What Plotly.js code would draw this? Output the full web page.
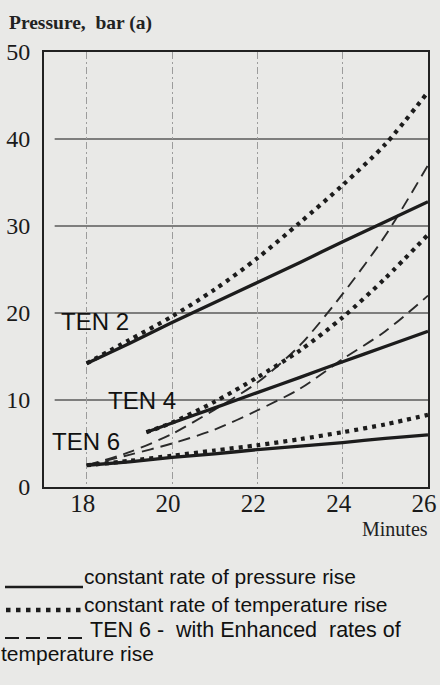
<!DOCTYPE html>
<html>
<head>
<meta charset="utf-8">
<script src="https://cdn.plot.ly/plotly-3.0.1.min.js"></script>
<style>
  html, body { margin: 0; padding: 0; background: #e9e9e7; }
  #chart { width: 440px; height: 685px; }
</style>
</head>
<body>
<div id="chart"></div>
<script>
// ---- data ----
const minutes = [18, 19, 20, 21, 22, 23, 24, 25, 26];
const ten2Pressure = [14.2, 16.5, 18.9, 21.2, 23.5, 25.8, 28.2, 30.5, 32.8];
const ten2Temperature = [14.2, 16.9, 19.6, 22.7, 26.3, 30.4, 34.7, 39.4, 45.4];

const ten4Minutes = [19.4, 20, 21, 22, 23, 24, 25, 26];
const ten4Pressure = [6.3, 7.35, 9.1, 10.85, 12.6, 14.4, 16.15, 17.9];
const ten4Temperature = [6.3, 7.4, 9.8, 12.6, 15.7, 19.5, 24.0, 29.0];

const ten6Pressure = [2.5, 2.9, 3.4, 3.8, 4.3, 4.7, 5.1, 5.6, 6.0];
const ten6Temperature = [2.5, 3.0, 3.6, 4.2, 4.8, 5.5, 6.3, 7.2, 8.3];
const ten6EnhancedHigh = [2.5, 4.0, 6.1, 8.9, 12.0, 16.3, 22.2, 28.9, 37.0];
const ten6EnhancedLow = [2.5, 3.7, 5.0, 6.6, 8.8, 11.3, 14.7, 17.9, 22.0];

const xTickValues = [18, 20, 22, 24, 26];
const yTickValues = [0, 10, 20, 30, 40, 50];
const yGridValues = [10, 20, 30, 40];

const seriesLabels = ['TEN 2', 'TEN 4', 'TEN 6'];
const legendTexts = [
  'constant rate of pressure rise',
  'constant rate of temperature rise',
  'TEN 6 -\u00a0 with Enhanced\u00a0 rates of',
  'temperature rise'
];
const yAxisTitle = 'Pressure,\u00a0 bar (a)';
const xAxisTitle = 'Minutes';

// ---- styles ----
const ink = '#1c1c1c';
const solid = { color: ink, width: 3.3, shape: 'spline', smoothing: 0.6 };
const dotted = { color: ink, width: 4.2, dash: '4px,5px', shape: 'spline', smoothing: 0.8 };
const dashed = { color: '#2a2a2a', width: 1.9, dash: '12px,7px', shape: 'spline', smoothing: 0.8 };

const traces = [
  { x: minutes, y: ten6EnhancedHigh, mode: 'lines', line: dashed },
  { x: minutes, y: ten6EnhancedLow, mode: 'lines', line: dashed },
  { x: minutes, y: ten2Temperature, mode: 'lines', line: dotted },
  { x: ten4Minutes, y: ten4Temperature, mode: 'lines', line: dotted },
  { x: minutes, y: ten6Temperature, mode: 'lines', line: dotted },
  { x: minutes, y: ten2Pressure, mode: 'lines', line: solid },
  { x: ten4Minutes, y: ten4Pressure, mode: 'lines', line: solid },
  { x: minutes, y: ten6Pressure, mode: 'lines', line: solid }
];

// plot area in pixels: left 44, right 428, top 52, bottom 487
const L = 44, R = 428, T = 52, B = 487, W = 440, H = 685;
const px = v => (v - L) / (R - L);
const py = v => (B - v) / (B - T);

const shapes = yGridValues.map(v => ({
  type: 'line', xref: 'x', yref: 'y', x0: 17.25, x1: 26, y0: v, y1: v,
  line: { color: '#5a5a5a', width: 1.4 }, layer: 'below'
}));
// legend samples
shapes.push({ type: 'line', xref: 'paper', yref: 'paper', x0: px(5), x1: px(83), y0: py(587), y1: py(587),
  line: { color: ink, width: 2.4 } });
shapes.push({ type: 'line', xref: 'paper', yref: 'paper', x0: px(6), x1: px(84), y0: py(610), y1: py(610),
  line: { color: ink, width: 4.6, dash: '4.5px,5.5px' } });
shapes.push({ type: 'line', xref: 'paper', yref: 'paper', x0: px(5), x1: px(83), y0: py(638), y1: py(638),
  line: { color: ink, width: 2, dash: '14px,7px' } });

const serif = 'Liberation Serif, Times New Roman, serif';
const sans = 'Liberation Sans, Arial, sans-serif';

const annotations = [
  { text: '<b>' + yAxisTitle + '</b>', xref: 'paper', yref: 'paper', x: px(7), y: py(23),
    xanchor: 'left', yanchor: 'middle', showarrow: false, font: { family: serif, size: 19.5, color: '#222' } },
  { text: xAxisTitle, xref: 'paper', yref: 'paper', x: px(430), y: py(529),
    xanchor: 'right', yanchor: 'middle', showarrow: false, font: { family: serif, size: 20, color: '#222' } },
  { text: seriesLabels[0], xref: 'x', yref: 'y', x: 18.2, y: 19.0, showarrow: false,
    font: { family: sans, size: 24, color: '#111' } },
  { text: seriesLabels[1], xref: 'x', yref: 'y', x: 19.3, y: 9.9, showarrow: false,
    font: { family: sans, size: 24, color: '#111' } },
  { text: seriesLabels[2], xref: 'x', yref: 'y', x: 17.98, y: 5.2, showarrow: false,
    font: { family: sans, size: 24, color: '#111' } },
  { text: legendTexts[0], xref: 'paper', yref: 'paper', x: px(82), y: py(576),
    xanchor: 'left', yanchor: 'middle', showarrow: false, font: { family: sans, size: 21, color: '#111' } },
  { text: legendTexts[1], xref: 'paper', yref: 'paper', x: px(82), y: py(604),
    xanchor: 'left', yanchor: 'middle', showarrow: false, font: { family: sans, size: 21, color: '#111' } },
  { text: legendTexts[2], xref: 'paper', yref: 'paper', x: px(88), y: py(630),
    xanchor: 'left', yanchor: 'middle', showarrow: false, font: { family: sans, size: 21.5, color: '#111' } },
  { text: legendTexts[3], xref: 'paper', yref: 'paper', x: px(-1), y: py(653),
    xanchor: 'left', yanchor: 'middle', showarrow: false, font: { family: sans, size: 21, color: '#111' } }
];

const layout = {
  width: W, height: H,
  margin: { l: L, r: W - R, t: T, b: H - B, pad: 0 },
  paper_bgcolor: '#e9e9e7',
  plot_bgcolor: '#e9e9e7',
  showlegend: false,
  xaxis: {
    range: [17, 26], tickvals: xTickValues, ticktext: xTickValues.map(String),
    showgrid: true, gridcolor: '#9c9c9c', gridwidth: 1, griddash: '7px,3px,2px,3px',
    zeroline: false, showline: true, linecolor: '#222', linewidth: 2, mirror: true,
    ticks: '', ticklabelstandoff: -7, ticklabelshift: -4,
    tickfont: { family: serif, size: 25, color: '#1a1a1a' }
  },
  yaxis: {
    range: [0, 50], tickvals: yTickValues, ticktext: yTickValues.map(String),
    showgrid: false, zeroline: false, showline: true, linecolor: '#222', linewidth: 2, mirror: true,
    ticks: '', ticklabelstandoff: 7,
    tickfont: { family: serif, size: 24, color: '#1a1a1a' }
  },
  shapes: shapes,
  annotations: annotations
};

Plotly.newPlot('chart', traces, layout, { displayModeBar: false, staticPlot: true });
</script>
</body>
</html>
